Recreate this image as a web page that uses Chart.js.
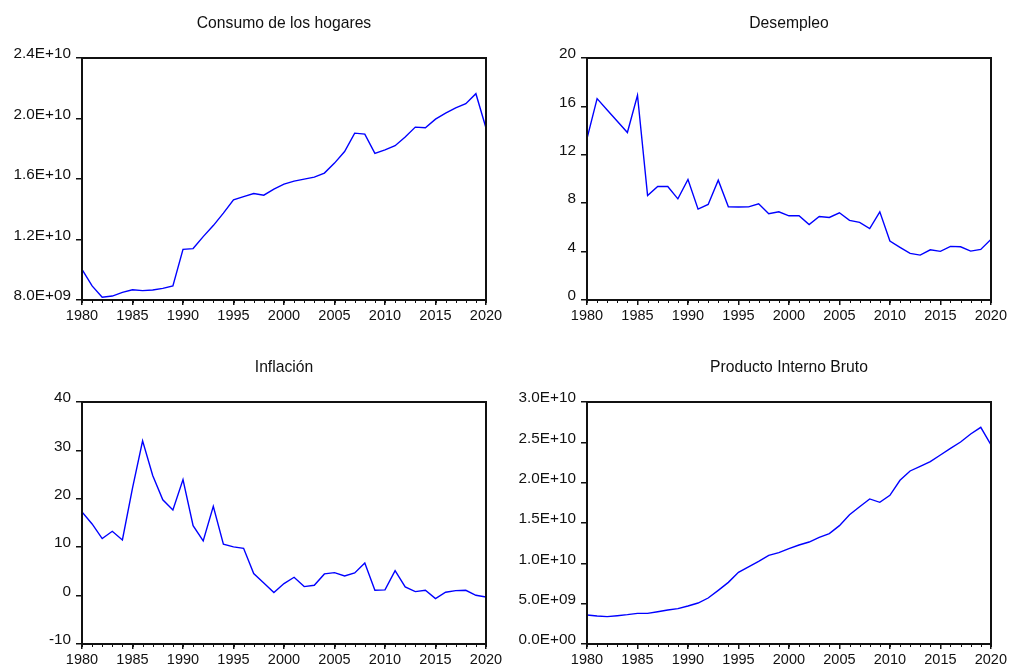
<!DOCTYPE html>
<html>
<head>
<meta charset="utf-8">
<script src="https://cdn.jsdelivr.net/npm/chart.js@4.4.1/dist/chart.umd.min.js"></script>
<style>
  html, body { margin: 0; padding: 0; background: #fff; overflow: hidden; width: 1009px; height: 666px; }
  canvas { position: absolute; display: block; }
</style>
</head>
<body>
<canvas id="c1" width="505" height="333" style="left:0;top:0"></canvas>
<canvas id="c2" width="504" height="333" style="left:505px;top:0"></canvas>
<canvas id="c3" width="505" height="333" style="left:0;top:333px"></canvas>
<canvas id="c4" width="504" height="333" style="left:505px;top:333px"></canvas>
<script>
// Annual series, 1980-2020
const years = [];
for (let y = 1980; y <= 2020; y++) years.push(y);

// Consumo de los hogares (units)
const consumo = [10.03e9, 8.93e9, 8.18e9, 8.26e9, 8.50e9, 8.68e9, 8.62e9, 8.66e9, 8.77e9, 8.93e9,
  11.35e9, 11.40e9, 12.19e9, 12.92e9, 13.74e9, 14.62e9, 14.84e9, 15.04e9, 14.93e9, 15.33e9,
  15.66e9, 15.86e9, 15.99e9, 16.12e9, 16.39e9, 17.05e9, 17.82e9, 19.03e9, 18.97e9, 17.69e9,
  17.93e9, 18.20e9, 18.77e9, 19.43e9, 19.39e9, 19.96e9, 20.36e9, 20.71e9, 20.98e9, 21.64e9, 19.37e9];

// Desempleo (%)
const desempleo = [13.34, 16.64, 15.71, 14.77, 13.84, 16.92, 8.64, 9.38, 9.38, 8.36,
  9.96, 7.51, 7.90, 9.90, 7.70, 7.68, 7.70, 7.95, 7.13, 7.29,
  6.96, 6.96, 6.24, 6.90, 6.82, 7.21, 6.58, 6.41, 5.91, 7.29,
  4.87, 4.35, 3.85, 3.71, 4.15, 4.02, 4.43, 4.40, 4.04, 4.18, 5.00];

// Inflación (%)
const inflacion = [17.29, 14.80, 11.78, 13.29, 11.50, 22.20, 31.96, 24.80, 19.80, 17.70,
  23.97, 14.46, 11.30, 18.46, 10.60, 10.06, 9.78, 4.55, 2.62, 0.62,
  2.48, 3.79, 1.86, 2.13, 4.48, 4.75, 4.06, 4.68, 6.75, 1.10,
  1.17, 5.17, 1.79, 0.83, 1.10, -0.62, 0.69, 1.03, 1.10, 0.07, -0.28];

// Producto Interno Bruto (units)
const pib = [3.60e9, 3.47e9, 3.39e9, 3.51e9, 3.64e9, 3.80e9, 3.80e9, 4.00e9, 4.21e9, 4.38e9,
  4.71e9, 5.08e9, 5.70e9, 6.65e9, 7.64e9, 8.88e9, 9.55e9, 10.25e9, 10.99e9, 11.32e9,
  11.82e9, 12.27e9, 12.64e9, 13.22e9, 13.68e9, 14.67e9, 16.03e9, 17.02e9, 17.98e9, 17.56e9,
  18.43e9, 20.29e9, 21.45e9, 22.02e9, 22.60e9, 23.43e9, 24.26e9, 25.04e9, 26.03e9, 26.86e9, 24.71e9];

const FONT = '"Liberation Sans", Arial, Helvetica, sans-serif';
Chart.defaults.font.family = FONT;
Chart.defaults.color = '#111';

// Scientific labels such as 2.4E+10 / 8.0E+09
function sci(v) {
  if (v === 0) return '0.0E+00';
  const e = Math.floor(Math.log10(Math.abs(v)) + 1e-9);
  const m = v / Math.pow(10, e);
  return m.toFixed(1) + 'E' + (e < 0 ? '-' : '+') + String(Math.abs(e)).padStart(2, '0');
}
function plain(v) { return String(v); }

// Box around the plot, yearly minor ticks and the panel title
const framePlugin = {
  id: 'frame',
  afterDraw(chart, args, opts) {
    const { ctx, chartArea: a } = chart;
    const x = chart.scales.x;
    ctx.save();
    ctx.strokeStyle = '#111';
    ctx.lineWidth = 1;
    for (const yr of years) {
      const px = Math.round(x.getPixelForValue(yr)) + 0.5;
      ctx.beginPath();
      ctx.moveTo(px, a.bottom);
      ctx.lineTo(px, a.bottom + 3);
      ctx.stroke();
    }
    ctx.lineWidth = 2;
    ctx.strokeRect(Math.round(a.left), Math.round(a.top),
      Math.round(a.right - a.left), Math.round(a.bottom - a.top));
    ctx.fillStyle = '#111';
    ctx.font = '15.7px ' + FONT;
    ctx.textAlign = 'center';
    ctx.textBaseline = 'middle';
    ctx.fillText(opts.title, (a.left + a.right) / 2, a.top - 34);
    ctx.restore();
  }
};

function panel(id, title, values, yMin, yMax, yStep, fmt, padTop, padRight, xHeight) {
  return new Chart(document.getElementById(id), {
    type: 'line',
    data: {
      datasets: [{
        data: years.map((yr, i) => ({ x: yr, y: values[i] })),
        borderColor: '#0000ff',
        borderWidth: 1.4,
        pointRadius: 0,
        tension: 0,
        fill: false
      }]
    },
    options: {
      responsive: false,
      animation: false,
      layout: { padding: { top: padTop, right: padRight, left: 0, bottom: 0 } },
      plugins: {
        legend: { display: false },
        tooltip: { enabled: false },
        frame: { title: title }
      },
      scales: {
        x: {
          type: 'linear',
          min: 1980, max: 2020,
          border: { display: false },
          grid: { drawOnChartArea: false, drawTicks: true, tickLength: 5, color: '#111', lineWidth: 1.5 },
          ticks: { stepSize: 5, autoSkip: false, maxRotation: 0, padding: 2, font: { size: 14.5 }, callback: plain },
          afterFit(s) { s.height = xHeight; }
        },
        y: {
          min: yMin, max: yMax,
          border: { display: false },
          grid: { drawOnChartArea: false, drawTicks: true, tickLength: 6, color: '#111', lineWidth: 1.5 },
          ticks: { stepSize: yStep, padding: 5, labelOffset: -4, font: { size: 15.3 }, callback: fmt },
          afterFit(s) { s.width = 82; }
        }
      }
    },
    plugins: [framePlugin]
  });
}

panel('c1', 'Consumo de los hogares', consumo, 8e9, 2.4e10, 4e9, sci, 58, 19, 33);
panel('c2', 'Desempleo', desempleo, 0, 20, 4, plain, 58, 18, 33);
panel('c3', 'Inflación', inflacion, -10, 40, 10, plain, 69, 19, 22);
panel('c4', 'Producto Interno Bruto', pib, 0, 3e10, 5e9, sci, 69, 18, 22);
</script>
</body>
</html>
